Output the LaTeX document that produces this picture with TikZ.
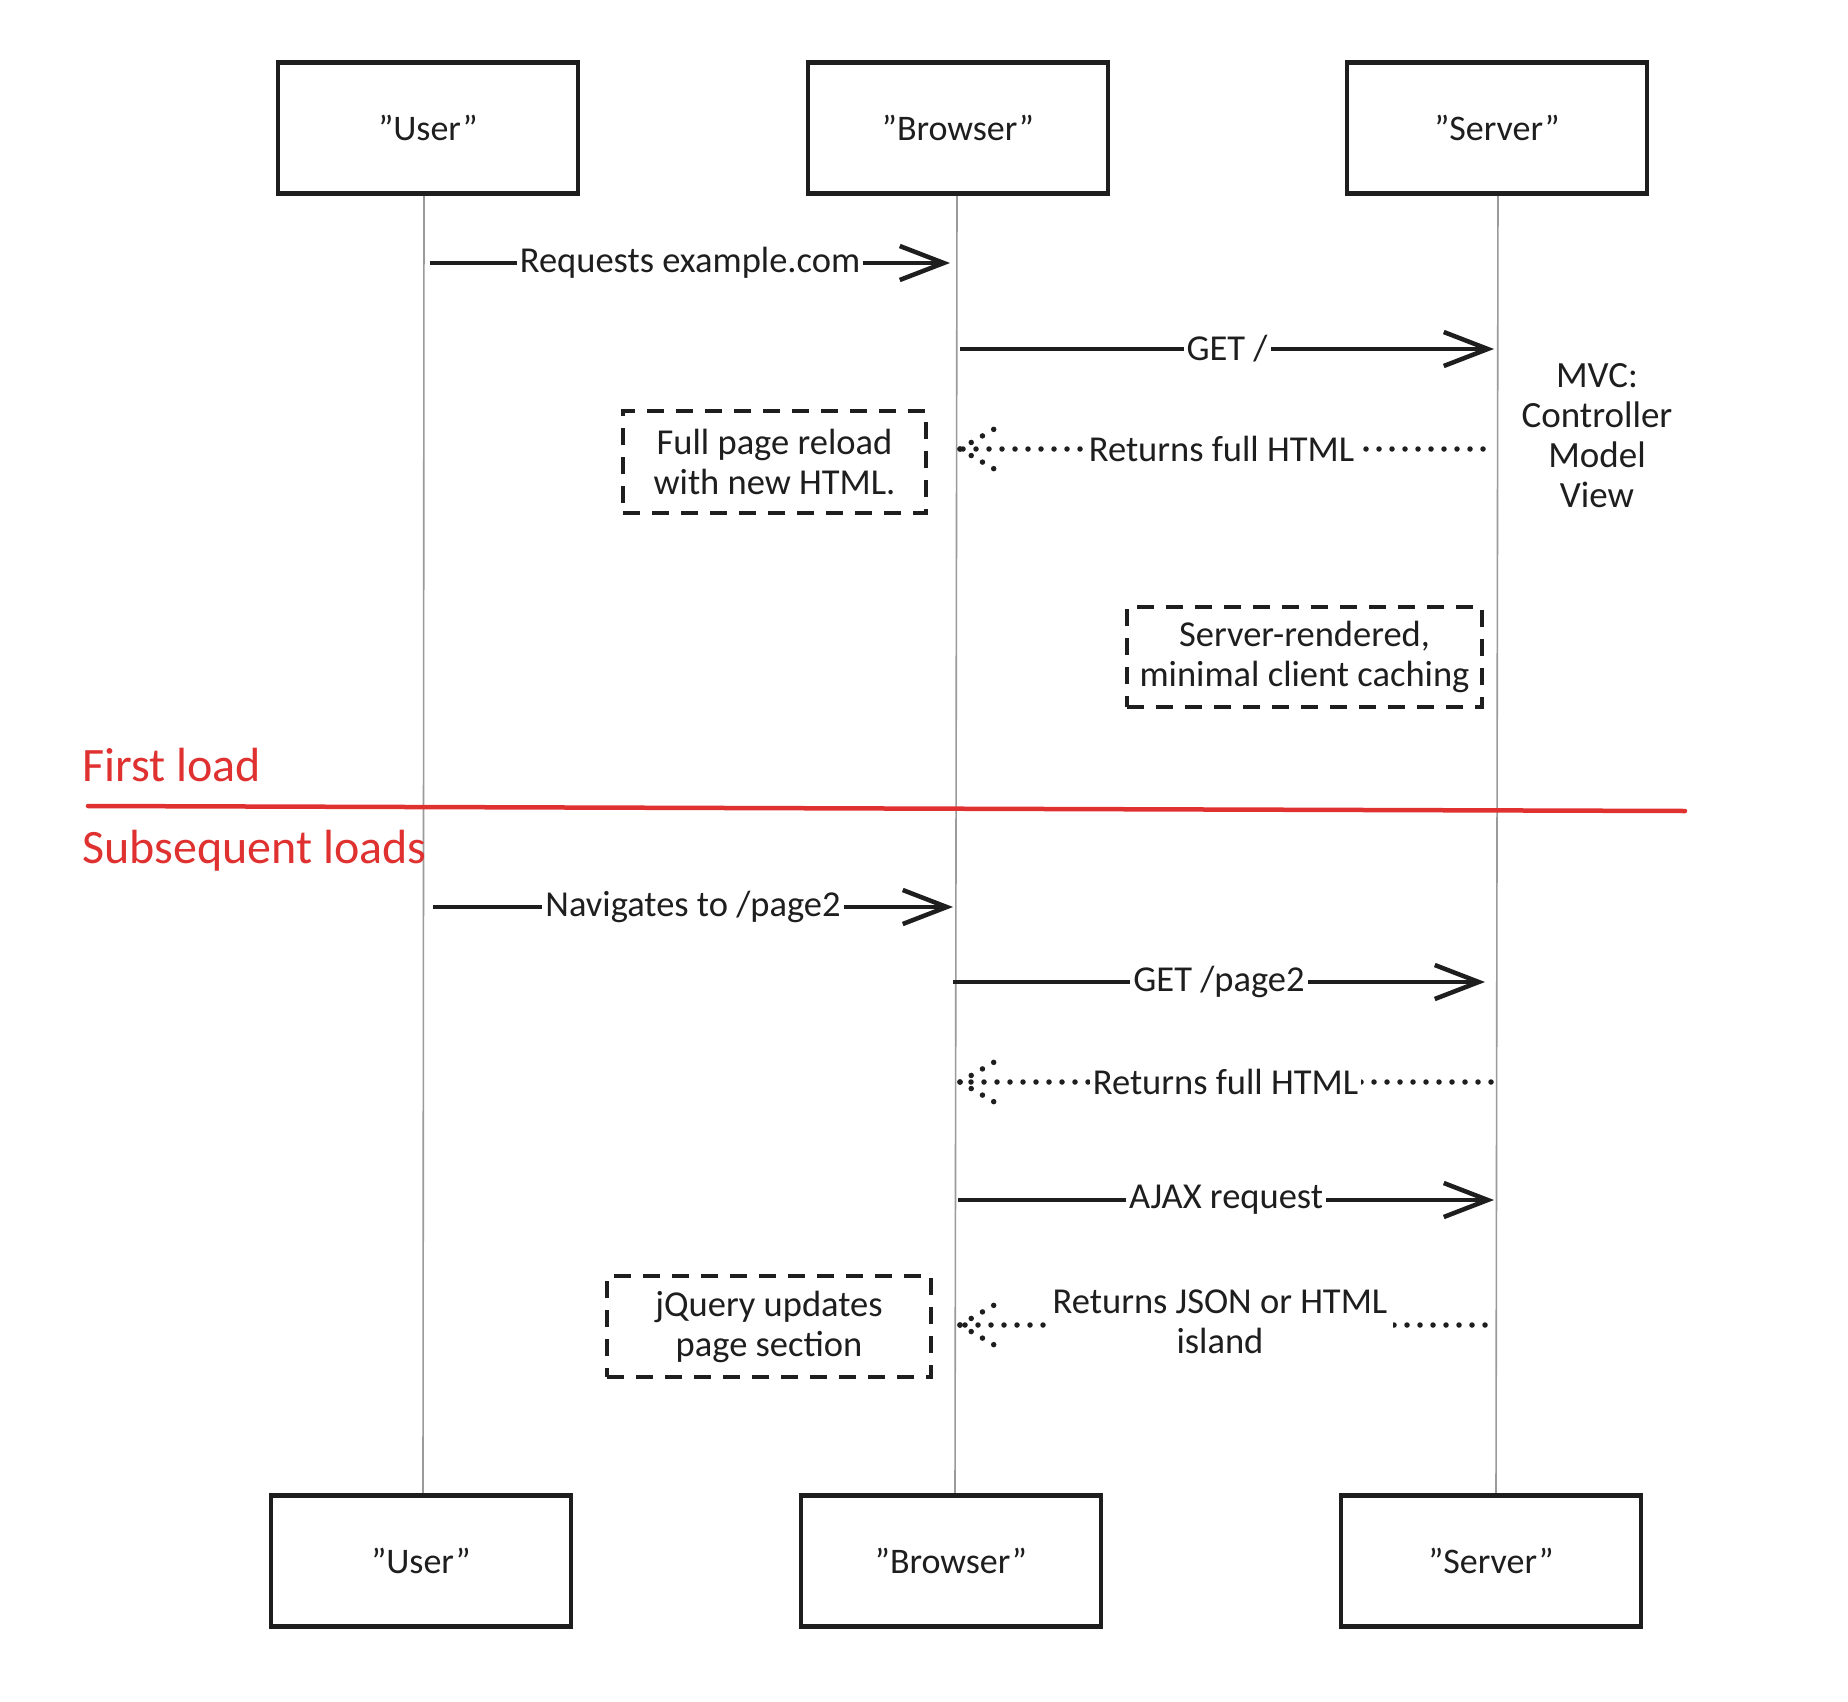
\documentclass[tikz,border=0pt]{standalone}
\usepackage{fontspec}
\setmainfont{Carlito}
\usetikzlibrary{arrows.meta}
\definecolor{ink}{HTML}{1E1E1E}
\definecolor{redink}{HTML}{E03131}
\definecolor{life}{HTML}{9A9A9A}
\newcommand{\qq}[1]{\symbol{34}#1\symbol{34}}
\begin{document}
\begin{tikzpicture}[x=1pt,y=-1pt,
  actor/.style={draw=ink, line width=4.5pt, minimum width=300pt, minimum height=131pt, inner sep=0pt,
    font=\fontsize{36}{40}\selectfont, text=ink},
  lifeline/.style={draw=life, line width=1.6pt},
  msg/.style={draw=ink, line width=4.5pt, -{Straight Barb[length=44pt,width=34pt,line width=4.5pt]}},
  dotline/.style={draw=ink, line width=5.5pt, line cap=round, dash pattern=on 0pt off 13pt},
  msglabel/.style={fill=white, inner sep=3pt, text=ink, font=\fontsize{36.5}{40}\selectfont, align=center},
  note/.style={draw=ink, line width=4.5pt, dash pattern=on 17pt off 12pt, inner sep=0pt, text=ink,
    font=\fontsize{36.5}{40}\selectfont, align=center},
  section/.style={text=redink, font=\fontsize{48}{52}\selectfont, anchor=west, inner sep=0pt},
  plain/.style={text=ink, font=\fontsize{37}{40}\selectfont, align=center}
]
\useasboundingbox (0,0) rectangle (1848,1702);
\fill[white] (0,0) rectangle (1848,1702);

% lifeline end points
\coordinate (uTop) at (424,193);  \coordinate (uBot) at (423,1496);
\coordinate (bTop) at (957,193);  \coordinate (bBot) at (955,1496);
\coordinate (sTop) at (1498,183); \coordinate (sBot) at (1496,1496);

% lifelines
\draw[lifeline] (uTop) -- (uBot);
\draw[lifeline] (bTop) -- (bBot);
\draw[lifeline] (sTop) -- (sBot);

% actors
\node[actor] (userT) at (428,128) {\qq{User}};
\node[actor] (browserT) at (958,128) {\qq{Browser}};
\node[actor, fill=white] (serverT) at (1497,128) {\qq{Server}};
\node[actor] (userB) at (421,1561) {\qq{User}};
\node[actor] (browserB) at (951,1561) {\qq{Browser}};
\node[actor] (serverB) at (1491,1561) {\qq{Server}};

% coordinates for messages
\coordinate (a1) at (430,263);  \coordinate (b1) at (950,263);
\coordinate (a2) at (960,349);  \coordinate (b2) at (1494,349);
\coordinate (a3) at (1483,449); \coordinate (b3) at (960,449);
\coordinate (a4) at (433,907);  \coordinate (b4) at (953,907);
\coordinate (a5) at (953,982);  \coordinate (b5) at (1485,982);
\coordinate (a6) at (1491,1082);\coordinate (b6) at (960,1082);
\coordinate (a7) at (958,1200); \coordinate (b7) at (1494,1200);
\coordinate (a8) at (1485,1325);\coordinate (b8) at (960,1325);

% solid messages
\draw[msg] (a1) -- node[msglabel] (l1) {Requests example.com} (b1);
\draw[msg] (a2) -- node[msglabel] (l2) {GET /} (b2);
\draw[msg] (a4) -- node[msglabel] (l4) {Navigates to /page2} (b4);
\draw[msg] (a5) -- node[msglabel] (l5) {GET /page2} (b5);
\draw[msg] (a7) -- node[msglabel] (l7) {AJAX request} (b7);

% dotted replies
\draw[dotline] (a3) -- node[msglabel] (l3) {Returns full HTML} (b3);
\draw[dotline] (b3) -- ++(36,-21);
\draw[dotline] (b3) -- ++(36,21);
\draw[dotline] (a6) -- node[msglabel] (l6) {Returns full HTML} (b6);
\draw[dotline] (b6) -- ++(36,-21);
\draw[dotline] (b6) -- ++(36,21);
\draw[dotline] (a8) -- (b8);
\node[msglabel, inner xsep=6pt] (l8) at (1220,1322) {Returns JSON or HTML\\island};
\draw[dotline] (b8) -- ++(36,-21);
\draw[dotline] (b8) -- ++(36,21);

% notes
\node[note, minimum width=303pt, minimum height=102pt] (n1) at (774.5,462) {Full page reload\\with new HTML.};
\node[note, minimum width=355pt, minimum height=100pt] (n2) at (1304.5,657) {Server-rendered,\\minimal client caching};
\node[note, minimum width=324pt, minimum height=101pt] (n3) at (769,1326.5) {jQuery updates\\page section};

% MVC annotation
\node[plain] (mvc) at (1597,436) {MVC:\\Controller\\Model\\View};

% section divider
\node[section] (first) at (82,765) {First load};
\node[section] (subs) at (82,851) {Subsequent loads};
\coordinate (sepL) at (88,806);
\coordinate (sepR) at (1685,811);
\draw[redink, line width=4.5pt, line cap=round] (sepL) -- (sepR);
\end{tikzpicture}
\end{document}
